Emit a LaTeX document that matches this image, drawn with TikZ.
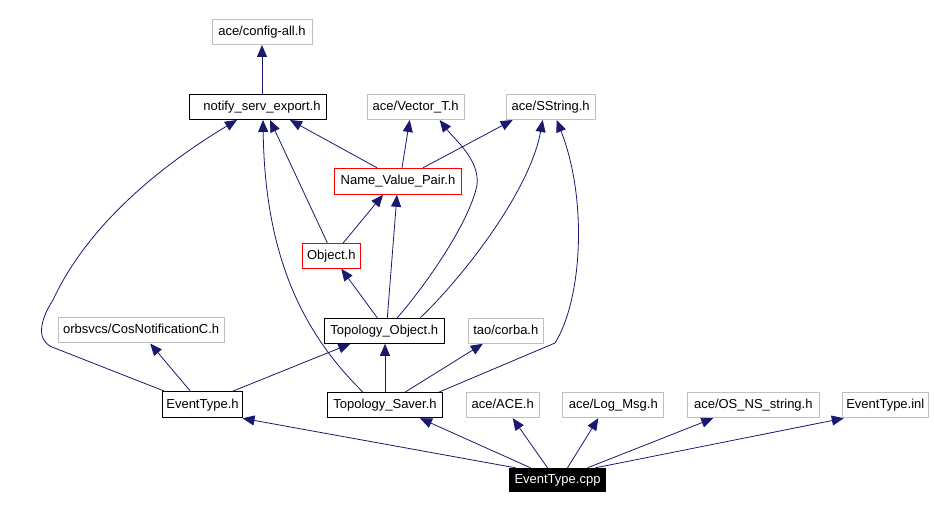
\documentclass[tikz,border=0pt]{standalone}
\usepackage{fontspec}
\setmainfont{Liberation Sans}
\usetikzlibrary{arrows.meta}
\definecolor{edgeblue}{RGB}{25,25,112}
\definecolor{extgray}{RGB}{191,191,191}
\begin{document}
\begin{tikzpicture}[x=1pt,y=-1pt,
  box/.style={rectangle,draw,line width=1pt,inner sep=0pt,minimum height=25pt,text height=9.6pt,text depth=2.8pt,font=\fontsize{13}{15}\selectfont},
  extbox/.style={box,draw=extgray},
  intbox/.style={box,draw=black},
  redbox/.style={box,draw=red},
  rootbox/.style={box,draw=black,fill=black,text=white},
  dep/.style={draw=edgeblue,line width=0.8pt,-{Triangle[length=12pt,width=10pt]}}]
\fill[white] (0,0) rectangle (934,510);
\useasboundingbox (0,0) rectangle (934,510);

\node[extbox,minimum width=100pt] (cfg) at (262,32) {ace/config-all.h};
\node[intbox,minimum width=137pt] (nse) at (258,107) {\hspace*{8pt}notify\_serv\_export.h};
\node[extbox,minimum width=97pt] (vec) at (415.7,107) {ace/Vector\_T.h};
\node[extbox,minimum width=89pt] (ss) at (550.7,107) {ace/SString.h};
\node[redbox,minimum width=127.5pt,minimum height=26pt] (nvp) at (398,181.3) {Name\_Value\_Pair.h};
\node[redbox,minimum width=58pt] (obj) at (331.3,255.8) {Object.h};
\node[intbox,minimum width=120pt] (to) at (384.3,330.8) {Topology\_Object.h};
\node[extbox,minimum width=75pt] (corba) at (505.8,330.8) {tao/corba.h};
\node[extbox,minimum width=165.7pt] (cos) at (141.2,330.5) {orbsvcs/CosNotificationC.h};
\node[intbox,minimum width=80.4pt,minimum height=26pt] (eth) at (202.5,404.8) {EventType.h};
\node[intbox,minimum width=114.6pt] (tsv) at (385,405.2) {Topology\_Saver.h};
\node[extbox,minimum width=73pt] (ace) at (502.7,405.2) {ace/ACE.h};
\node[extbox,minimum width=101.3pt] (log) at (613.3,405.2) {ace/Log\_Msg.h};
\node[extbox,minimum width=132pt] (os) at (753.3,405.2) {ace/OS\_NS\_string.h};
\node[extbox,minimum width=86pt] (inl) at (885.3,405.2) {EventType.inl};
\node[rootbox,minimum width=96.4pt,minimum height=23.4pt] (cpp) at (557.5,480) {EventType.cpp};

% notify_serv_export.h
\draw[dep] ([xshift=4pt]nse.north) -- (cfg.south);

% Name_Value_Pair.h
\draw[dep] ([xshift=-21pt]nvp.north) -- ([xshift=32pt]nse.south);
\draw[dep] ([xshift=4pt]nvp.north) -- ([xshift=-6pt]vec.south);
\draw[dep] ([xshift=25pt]nvp.north) -- ([xshift=-38pt]ss.south);

% Object.h
\draw[dep] ([xshift=-4pt]obj.north) -- ([xshift=12pt]nse.south);
\draw[dep] ([xshift=12pt]obj.north) -- ([xshift=-15pt]nvp.south);

% Topology_Object.h
\draw[dep] ([xshift=-7pt]to.north) -- ([xshift=10pt]obj.south);
\draw[dep] ([xshift=3pt]to.north) -- ([xshift=-1pt]nvp.south);
\draw[dep] ([xshift=13pt]to.north) .. controls (430,280) and (470,220) .. (477,185)
  .. controls (480,160) and (455,140) .. ([xshift=24pt]vec.south);
\draw[dep] ([xshift=36pt]to.north) .. controls (465,275) and (530,190) .. ([xshift=-8pt]ss.south);

% Topology_Saver.h
\draw[dep] (tsv.north) -- (to.south -| tsv.north);
\draw[dep] ([xshift=20pt]tsv.north) -- ([xshift=-23pt]corba.south);
\draw[dep] ([xshift=-22pt]tsv.north) .. controls (305,335) and (265,260) .. ([xshift=5pt]nse.south);
\draw[dep] ([xshift=-4pt]tsv.north east) -- (555,343) .. controls (582,300) and (588,200) .. ([xshift=6pt]ss.south);

% EventType.h
\draw[dep] ([xshift=-12pt]eth.north) -- ([xshift=9pt]cos.south);
\draw[dep] ([xshift=30pt]eth.north) -- ([xshift=-34pt]to.south);
\draw[dep] ([xshift=3pt]eth.north west) -- (52,347) .. controls (36,340) and (40,320) .. (53,300)
  .. controls (90,220) and (170,160) .. ([xshift=-21pt]nse.south);

% EventType.cpp
\draw[dep] ([xshift=-42pt]cpp.north) -- ([xshift=40pt]eth.south);
\draw[dep] ([xshift=-27pt]cpp.north) -- ([xshift=35pt]tsv.south);
\draw[dep] ([xshift=-10pt]cpp.north) -- ([xshift=10pt]ace.south);
\draw[dep] ([xshift=10pt]cpp.north) -- ([xshift=-15pt]log.south);
\draw[dep] ([xshift=30pt]cpp.north) -- ([xshift=-40pt]os.south);
\draw[dep] ([xshift=38pt]cpp.north) -- ([xshift=2pt]inl.south west);
\end{tikzpicture}
\end{document}
